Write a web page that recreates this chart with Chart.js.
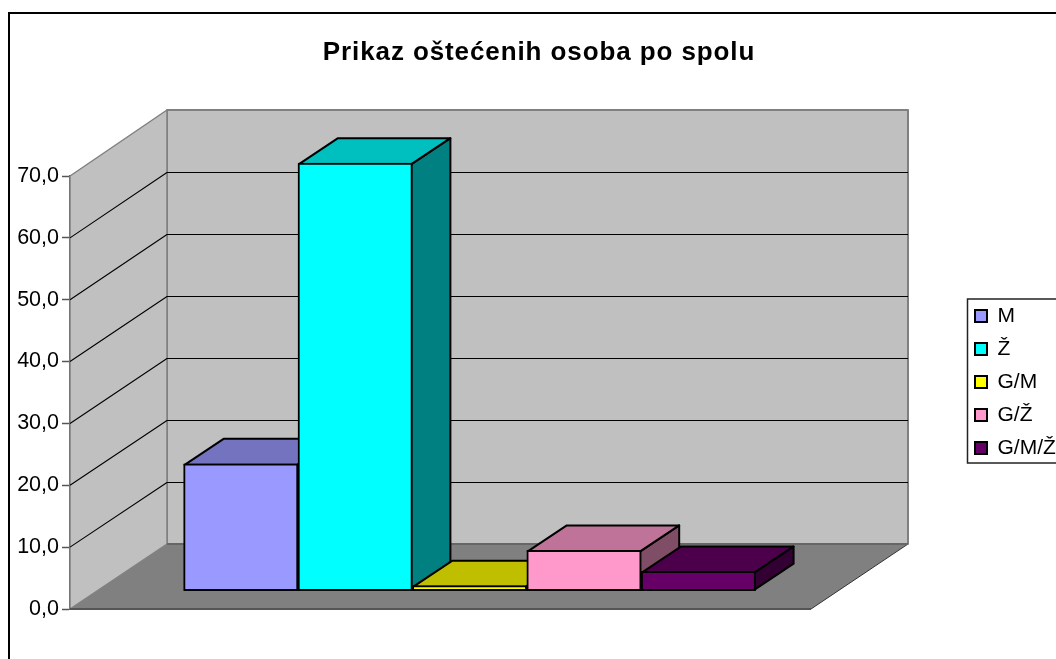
<!DOCTYPE html>
<html><head><meta charset="utf-8">
<style>html,body{margin:0;padding:0;background:#fff;overflow:hidden}canvas{display:block}</style>
<script src="https://cdn.jsdelivr.net/npm/chart.js@4"></script></head>
<body><canvas id="c" width="1056" height="659"></canvas>
<script>
const categories = [''];
const seriesNames = ['M', 'Ž', 'G/M', 'G/Ž', 'G/M/Ž'];
const seriesValues = [[20.5], [69.1], [0.8], [6.5], [3.1]];
const frontColors = ['#9999FF', '#00FFFF', '#FFFF00', '#FF99CC', '#660066'];
const topColors = ['#7373BF', '#00BFBF', '#BFBF00', '#BF7399', '#4C004C'];
const sideColors = ['#4D4D80', '#008080', '#808000', '#804D66', '#330033'];
const titleText = 'Prikaz oštećenih osoba po spolu';
const FONT = '"Liberation Sans", Arial, sans-serif';

// 3D projection constants
const WALL_DX = 97, WALL_DY = 65, FLOOR_W = 741, BAR_DX = 39, BAR_DY = 26;

function poly(ctx, pts, fill, stroke, lw) {
  ctx.beginPath();
  pts.forEach((p, i) => i ? ctx.lineTo(p[0], p[1]) : ctx.moveTo(p[0], p[1]));
  ctx.closePath();
  if (fill) { ctx.fillStyle = fill; ctx.fill(); }
  if (stroke) { ctx.strokeStyle = stroke; ctx.lineWidth = lw; ctx.lineJoin = 'round'; ctx.stroke(); }
}

const scene3d = {
  id: 'scene3d',
  afterLayout(chart) {
    const lg = chart.legend, t = chart.titleBlock;
    lg.left = 963; lg.right = 1100; lg.top = 293.5; lg.bottom = 500; lg.width = 137; lg.height = 206;
    t.left = 22; t.right = 1056;
    if (!t._spaced) {
      const draw = t.draw;
      t.draw = function () {
        const ctx = chart.ctx;
        ctx.letterSpacing = '0.9px';
        draw.call(this);
        ctx.letterSpacing = '0px';
      };
      t._spaced = true;
    }
  },
  beforeDraw(chart) {
    const c = chart.ctx;
    c.save();
    c.fillStyle = '#fff'; c.fillRect(0, 0, chart.width, chart.height);
    c.strokeStyle = '#000'; c.lineWidth = 2; c.strokeRect(9, 13, 1300, 1000);
    c.restore();
  },
  beforeDatasetsDraw(chart) {
    const c = chart.ctx, y = chart.scales.y;
    const x0 = chart.chartArea.left, top = y.getPixelForValue(y.max), bot = y.getPixelForValue(y.min);
    const bx = x0 + WALL_DX;
    const backY = v => y.getPixelForValue(v) - WALL_DY - v / y.max;
    const bTop = backY(y.max), bBot = backY(y.min);
    c.save();
    // floor
    poly(c, [[x0, bot], [x0 + FLOOR_W, bot], [bx + FLOOR_W, bBot], [bx, bBot]], '#808080');
    // back wall
    poly(c, [[bx, bTop], [bx + FLOOR_W, bTop], [bx + FLOOR_W, bBot], [bx, bBot]], '#C0C0C0', '#808080', 2);
    // side wall
    poly(c, [[x0, top], [bx, bTop], [bx, bBot], [x0, bot]], '#C0C0C0', '#808080', 1.5);
    // grid lines
    c.strokeStyle = '#000'; c.lineWidth = 1.1;
    y.ticks.forEach(t => {
      if (t.value === y.min || t.value === y.max) return;
      const p = y.getPixelForValue(t.value), q = Math.round(backY(t.value)) + 0.5;
      c.beginPath(); c.moveTo(x0, p); c.lineTo(bx, q); c.lineTo(bx + FLOOR_W, q); c.stroke();
    });
    // floor edges
    c.strokeStyle = '#555'; c.lineWidth = 2;
    c.beginPath(); c.moveTo(x0, bot); c.lineTo(x0 + FLOOR_W, bot); c.stroke();
    c.lineWidth = 1; c.strokeStyle = '#333';
    c.beginPath(); c.moveTo(x0 + FLOOR_W, bot); c.lineTo(bx + FLOOR_W, bBot); c.stroke();
    c.strokeStyle = '#666'; c.lineWidth = 2;
    c.beginPath(); c.moveTo(bx, bBot); c.lineTo(bx + FLOOR_W, bBot); c.stroke();
    // bar depth faces, left to right
    seriesNames.forEach((_, i) => {
      const el = chart.getDatasetMeta(i).data[0];
      if (!el) return;
      const p = el.getProps(['x', 'y', 'base', 'width'], true);
      const l = p.x - p.width / 2 + 1, r = p.x + p.width / 2 - 1, t = p.y + 1, b = p.base - 1;
      poly(c, [[r, t], [r + BAR_DX, t - BAR_DY], [r + BAR_DX, b - BAR_DY], [r, b]], sideColors[i], '#000', 2);
      poly(c, [[l, t], [l + BAR_DX, t - BAR_DY], [r + BAR_DX, t - BAR_DY], [r, t]], topColors[i], '#000', 2);
    });
    c.restore();
  },
  afterDatasetsDraw(chart) {
    const c = chart.ctx;
    c.save();
    c.strokeStyle = '#222'; c.lineWidth = 1.5;
    c.strokeRect(967.5, 299, 200, 164);
    c.restore();
  }
};

new Chart(document.getElementById('c'), {
  type: 'bar',
  data: {
    labels: categories,
    datasets: seriesNames.map((n, i) => ({
      label: n,
      data: seriesValues[i],
      backgroundColor: frontColors[i],
      borderColor: '#000',
      borderWidth: 2,
      borderSkipped: false,
      barThickness: 114.4,
      clip: false,
      yAxisID: 'yBar',
      xAxisID: 'x'
    }))
  },
  options: {
    responsive: false,
    animation: false,
    events: [],
    layout: { padding: { left: 0, top: 0, right: 84, bottom: 50 } },
    scales: {
      x: { display: false, grid: { display: false } },
      yBar: { display: false, min: -2.97, max: 67.03, grid: { display: false } },
      y: {
        position: 'left', min: 0, max: 70,
        afterFit: s => { s.width = 70; },
        border: { display: true, color: '#555', width: 1.5 },
        grid: { drawOnChartArea: false, drawTicks: true, tickLength: 8, color: '#555', tickWidth: 1.5 },
        ticks: {
          stepSize: 10, padding: 3, color: '#000',
          font: { family: FONT, size: 21.5 },
          callback: v => v.toFixed(1).replace('.', ',')
        }
      }
    },
    plugins: {
      tooltip: { enabled: false },
      title: {
        display: true, text: titleText, color: '#000',
        font: { family: FONT, size: 26, weight: 'bold' },
        padding: { top: 37.4, bottom: 107.4 }
      },
      legend: {
        display: true, position: 'right', align: 'start',
        labels: {
          boxWidth: 12, boxHeight: 12, padding: 12, color: '#000',
          font: { family: FONT, size: 21 }
        }
      }
    }
  },
  plugins: [scene3d]
});
</script></body></html>
